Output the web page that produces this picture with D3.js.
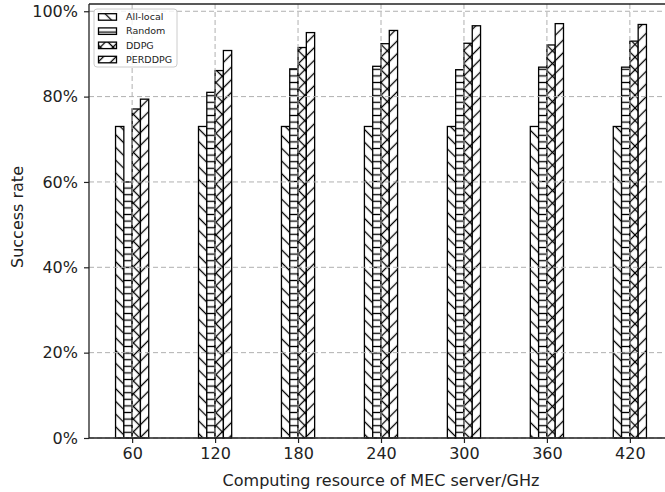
<!DOCTYPE html>
<html>
<head>
<meta charset="utf-8">
<script src="https://cdn.jsdelivr.net/npm/d3@7"></script>
<style>
  body { margin: 0; background: #fff; }
  svg { display: block; font-family: "DejaVu Sans", sans-serif; }
</style>
</head>
<body>
<svg width="665" height="492"></svg>
<script>
// data
const servers = [60, 120, 180, 240, 300, 360, 420];
const seriesNames = ["All-local", "Random", "DDPG", "PERDDPG"];
const allLocal = [0.73, 0.73, 0.73, 0.73, 0.73, 0.73, 0.73];
const random = [0.60, 0.81, 0.865, 0.871, 0.863, 0.869, 0.869];
const ddpg = [0.771, 0.861, 0.915, 0.924, 0.925, 0.921, 0.930];
const perddpg = [0.794, 0.908, 0.950, 0.955, 0.966, 0.971, 0.969];
const yTicks = [0, 0.2, 0.4, 0.6, 0.8, 1.0];

const series = [allLocal, random, ddpg, perddpg];
const hatches = [["hb"], ["hh"], ["hf", "hb"], ["hf"]];

const svg = d3.select("svg");
const m = {left: 89, right: 673, top: 4, bottom: 438};
const barW = 6;
const fs = 16;

const x = d3.scaleLinear().domain([28.8, 451.2]).range([m.left, m.right]);
const y = d3.scaleLinear().domain([0, 1.017]).range([m.bottom, m.top]);

// hatch patterns
const defs = svg.append("defs");
const p = 12.7;
function diag(id, angle) {
    const w = p / Math.SQRT2;
    const pat = defs.append("pattern")
        .attr("id", id)
        .attr("patternUnits", "userSpaceOnUse")
        .attr("width", w).attr("height", w)
        .attr("patternTransform", "rotate(" + angle + ")");
    pat.append("line")
        .attr("x1", w / 2).attr("x2", w / 2)
        .attr("y1", -1).attr("y2", w + 1)
        .attr("stroke", "#000").attr("stroke-width", 1.3);
}
diag("hf", 45);
diag("hb", -45);
const ph = 6.6;
const hp = defs.append("pattern")
    .attr("id", "hh")
    .attr("patternUnits", "userSpaceOnUse")
    .attr("width", 10).attr("height", ph);
hp.append("line")
    .attr("x1", 0).attr("x2", 10)
    .attr("y1", ph / 2).attr("y2", ph / 2)
    .attr("stroke", "#000").attr("stroke-width", 1.3);

function barRects(g, vals, off, cls) {
    return g.selectAll("rect." + cls)
        .data(vals)
        .enter().append("rect")
        .attr("class", cls)
        .attr("x", (d, i) => x(servers[i] + off - barW / 2))
        .attr("width", (d, i) => x(servers[i] + off + barW / 2) - x(servers[i] + off - barW / 2))
        .attr("y", d => y(d))
        .attr("height", d => y(0) - y(d));
}

// bars
const plot = svg.append("g");
series.forEach((vals, k) => {
    const off = (k - 1.5) * barW;
    const g = plot.append("g");
    barRects(g, vals, off, "bg").attr("fill", "#fff");
    hatches[k].forEach(h => {
        barRects(g, vals, off, "h" + h).attr("fill", "url(#" + h + ")");
    });
    barRects(g, vals, off, "edge")
        .attr("fill", "none")
        .attr("stroke", "#000")
        .attr("stroke-width", 1.3);
});

// grid (drawn over bars, as matplotlib does by default)
const grid = svg.append("g")
    .attr("stroke", "#b0b0b0")
    .attr("stroke-width", 1)
    .attr("stroke-dasharray", "5,3");
grid.selectAll("line.gy")
    .data(yTicks)
    .enter().append("line")
    .attr("class", "gy")
    .attr("x1", m.left).attr("x2", m.right)
    .attr("y1", d => y(d)).attr("y2", d => y(d));
grid.selectAll("line.gx")
    .data(servers)
    .enter().append("line")
    .attr("class", "gx")
    .attr("x1", d => x(d)).attr("x2", d => x(d))
    .attr("y1", m.top).attr("y2", m.bottom);

// axes
const xAxis = svg.append("g")
    .attr("transform", "translate(0," + m.bottom + ")")
    .call(d3.axisBottom(x).tickValues(servers).tickSize(5).tickPadding(5));
const yAxis = svg.append("g")
    .attr("transform", "translate(" + m.left + ",0)")
    .call(d3.axisLeft(y).tickValues(yTicks).tickFormat(d3.format(".0%")).tickSize(5).tickPadding(6));
[xAxis, yAxis].forEach(a => {
    a.select(".domain").remove();
    a.selectAll("text").attr("font-size", fs).attr("font-family", "DejaVu Sans").attr("fill", "#222");
    a.selectAll("line").attr("stroke", "#222").attr("stroke-width", 1.2);
});

// spines
svg.append("line").attr("x1", m.left).attr("x2", m.left).attr("y1", m.top).attr("y2", m.bottom)
    .attr("stroke", "#222").attr("stroke-width", 1.3);
svg.append("line").attr("x1", m.left).attr("x2", m.right).attr("y1", m.bottom).attr("y2", m.bottom)
    .attr("stroke", "#222").attr("stroke-width", 1.3);
svg.append("line").attr("x1", m.left).attr("x2", m.right).attr("y1", m.top).attr("y2", m.top)
    .attr("stroke", "#222").attr("stroke-width", 1.3);

// axis labels
svg.append("text")
    .attr("x", (m.left + m.right) / 2).attr("y", 486)
    .attr("text-anchor", "middle")
    .attr("font-size", fs).attr("fill", "#222")
    .text("Computing resource of MEC server/GHz");
svg.append("text")
    .attr("transform", "translate(23,217) rotate(-90)")
    .attr("text-anchor", "middle")
    .attr("font-size", fs).attr("fill", "#222")
    .text("Success rate");

// legend
const lg = svg.append("g").attr("transform", "translate(94,9)");
lg.append("rect")
    .attr("width", 83).attr("height", 58).attr("rx", 3)
    .attr("fill", "#fff").attr("fill-opacity", 0.8)
    .attr("stroke", "#ccc").attr("stroke-width", 1);
seriesNames.forEach((name, k) => {
    const yy = 7.7 + k * 14.2;
    lg.append("rect").attr("x", 4.5).attr("y", yy - 3).attr("width", 18).attr("height", 6.5)
        .attr("fill", "#fff");
    hatches[k].forEach(h => {
        lg.append("rect").attr("x", 4.5).attr("y", yy - 3).attr("width", 18).attr("height", 6.5)
            .attr("fill", "url(#" + h + ")");
    });
    lg.append("rect").attr("x", 4.5).attr("y", yy - 3).attr("width", 18).attr("height", 6.5)
        .attr("fill", "none").attr("stroke", "#000").attr("stroke-width", 1.3);
    lg.append("text").attr("x", 32).attr("y", yy + 3.4)
        .attr("font-size", 9.5).attr("fill", "#222")
        .text(name);
});
</script>
</body>
</html>
